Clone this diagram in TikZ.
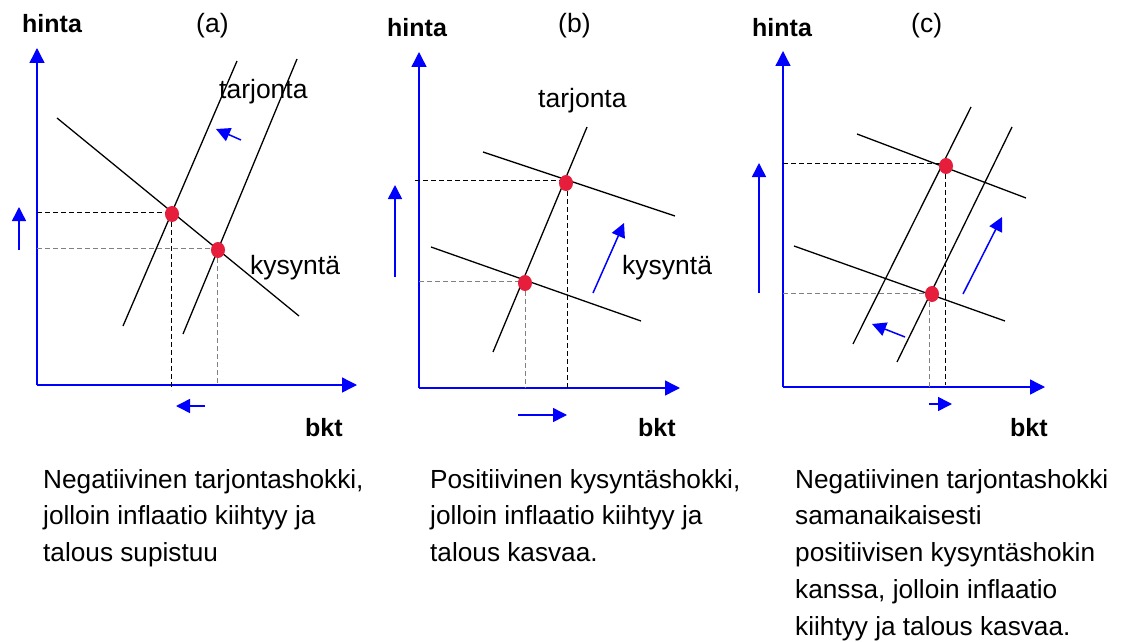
\documentclass[tikz,border=0pt]{standalone}
\usepackage{fontspec}
\setmainfont{Liberation Sans}
\usetikzlibrary{arrows.meta}
\definecolor{pisteRed}{RGB}{230,30,60}

\begin{document}
\begin{tikzpicture}[x=1pt, y=-1pt, >={Triangle[length=14pt,width=14pt]},
  akseli/.style={blue, line width=1.4pt, ->, >={Triangle[length=15pt,width=15pt]}},
  siirto/.style={blue, line width=1.5pt, ->},
  kayra/.style={black, line width=1.3pt},
  apuMusta/.style={black, line width=1pt, dash pattern=on 5pt off 3pt},
  apuHarmaa/.style={gray, line width=1pt, dash pattern=on 5pt off 3pt},
  piste/.style={fill=pisteRed},
  otsikko/.style={font=\fontsize{25}{30}\selectfont\bfseries, anchor=base west, inner sep=0pt},
  nimi/.style={font=\fontsize{26.5}{30}\selectfont, anchor=base west, inner sep=0pt},
  selitys/.style={font=\fontsize{26.2}{36.75}\selectfont, align=left, anchor=north west, inner sep=0pt}]
  \useasboundingbox (0,0) rectangle (1121,642);

  % (a) Negatiivinen tarjontashokki
  \draw[akseli] (37,385) -- (357,385);
  \draw[akseli] (37,385) -- (37,48);
  \node[otsikko] (hintaA) at (22,33) {hinta};
  \node[nimi] (tunnusA) at (196,33) {(a)};
  \node[otsikko] (bktA) at (305,436) {bkt};
  \draw[kayra] (123,326) -- (237,61);
  \draw[kayra] (183,334) -- (297,59);
  \draw[kayra] (57,118) -- (299,316);
  \draw[apuMusta] (37,212) -- (172,212);
  \draw[apuMusta] (171,214) -- (171,390);
  \draw[apuHarmaa] (37,248) -- (218,248);
  \draw[apuHarmaa] (217,250) -- (217,385);
  \fill[piste] (172,214) ellipse (7 and 8);
  \fill[piste] (218,250) ellipse (7 and 8);
  \node[nimi] (tarjontaA) at (219,98) {tarjonta};
  \node[nimi] (kysyntaA) at (250,274) {kysyntä};
  \draw[siirto] (241,140) -- (216,129);
  \draw[siirto] (19,250) -- (19,207);
  \draw[siirto] (205,406) -- (176,406);

  % (b) Positiivinen kysyntäshokki
  \draw[akseli] (419,388) -- (680,388);
  \draw[akseli] (419,388) -- (419,52);
  \node[otsikko] (hintaB) at (387,37) {hinta};
  \node[nimi] (tunnusB) at (558,33) {(b)};
  \node[otsikko] (bktB) at (638,436) {bkt};
  \draw[kayra] (493,352) -- (587,127);
  \draw[kayra] (483,152) -- (675,216);
  \draw[kayra] (431,247) -- (641,321);
  \draw[apuMusta] (415,180) -- (566,180);
  \draw[apuMusta] (567,183) -- (567,388);
  \draw[apuHarmaa] (419,281) -- (525,281);
  \draw[apuHarmaa] (525,283) -- (525,388);
  \fill[piste] (566,183) ellipse (7 and 8);
  \fill[piste] (525,283) ellipse (7 and 8);
  \node[nimi] (tarjontaB) at (538,107) {tarjonta};
  \node[nimi] (kysyntaB) at (622,274) {kysyntä};
  \draw[siirto] (593,293) -- (624,223);
  \draw[siirto] (395,277) -- (395,185);
  \draw[siirto] (518,415) -- (567,415);

  % (c) Molemmat shokit
  \draw[akseli] (783,387) -- (1045,387);
  \draw[akseli] (783,387) -- (783,51);
  \node[otsikko] (hintaC) at (752,37) {hinta};
  \node[nimi] (tunnusC) at (911,33) {(c)};
  \node[otsikko] (bktC) at (1010,436) {bkt};
  \draw[kayra] (853,344) -- (971,107);
  \draw[kayra] (897,362) -- (1012,127);
  \draw[kayra] (857,134) -- (1026,198);
  \draw[kayra] (794,246) -- (1005,321);
  \draw[apuMusta] (783,163) -- (946,163);
  \draw[apuMusta] (945,166) -- (945,385);
  \draw[apuHarmaa] (783,293) -- (932,293);
  \draw[apuHarmaa] (929,294) -- (929,390);
  \fill[piste] (946,166) ellipse (7 and 8);
  \fill[piste] (932,294) ellipse (7 and 8);
  \draw[siirto] (963,294) -- (1002,217);
  \draw[siirto] (905,337) -- (872,324);
  \draw[siirto] (759,293) -- (759,163);
  \draw[siirto] (929,404) -- (952,404);

  % Selitykset
  \node[selitys] (selitysA) at (43,469)
      {Negatiivinen tarjontashokki,\\ jolloin inflaatio kiihtyy ja\\ talous supistuu};
  \node[selitys] (selitysB) at (430,469)
      {Positiivinen kysyntäshokki,\\ jolloin inflaatio kiihtyy ja\\ talous kasvaa.};
  \node[selitys] (selitysC) at (795,469)
      {Negatiivinen tarjontashokki\\ samanaikaisesti\\ positiivisen kysyntäshokin\\ kanssa, jolloin inflaatio\\ kiihtyy ja talous kasvaa.};
\end{tikzpicture}
\end{document}
